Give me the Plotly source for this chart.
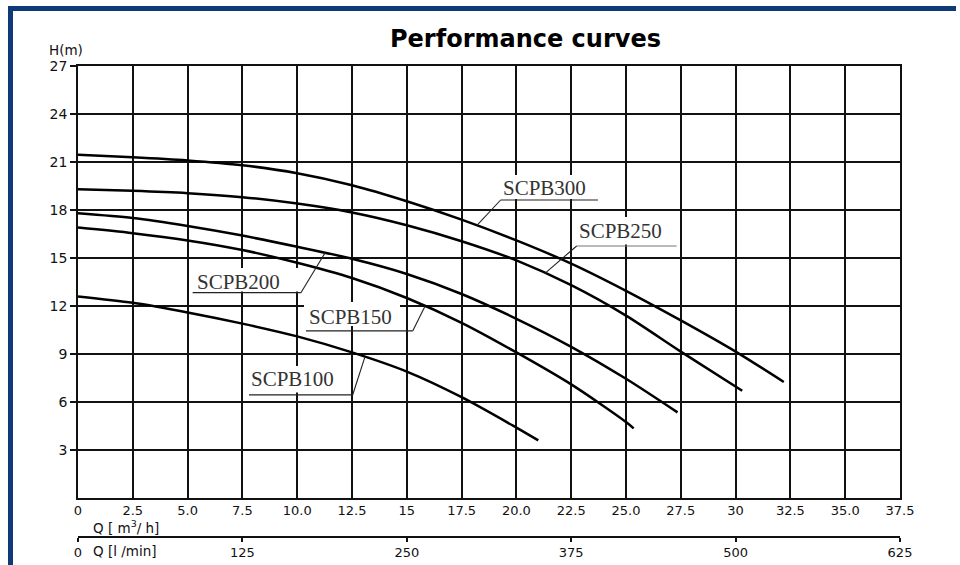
import numpy as np
import plotly.graph_objects as go

# ---------------- data ----------------
series_names = ["SCPB300", "SCPB250", "SCPB200", "SCPB150", "SCPB100"]

q_300 = [0, 2.5, 5, 7.5, 10, 12.5, 15, 17.5, 20, 22.5, 25, 27.5, 30, 32.2]
h_300 = [21.45, 21.3, 21.1, 20.8, 20.3, 19.55, 18.55, 17.4, 16.1, 14.65, 12.95, 11.1, 9.15, 7.25]

q_250 = [0, 2.5, 5, 7.5, 10, 12.5, 15, 17.5, 20, 22.5, 25, 27.5, 30.3]
h_250 = [19.3, 19.2, 19.05, 18.8, 18.4, 17.85, 17.05, 16.05, 14.85, 13.3, 11.4, 9.15, 6.7]

q_200 = [0, 2.5, 5, 7.5, 10, 12.5, 15, 17.5, 20, 22.5, 25, 27.35]
h_200 = [17.8, 17.5, 17.0, 16.4, 15.7, 14.95, 14.0, 12.75, 11.2, 9.45, 7.45, 5.35]

q_150 = [0, 2.5, 5, 7.5, 10, 12.5, 15, 17.5, 20, 22.5, 25, 25.35]
h_150 = [16.9, 16.55, 16.1, 15.5, 14.7, 13.75, 12.5, 10.95, 9.1, 7.1, 4.75, 4.35]

q_100 = [0, 2.5, 5, 7.5, 10, 12.5, 15, 17.5, 20, 21.0]
h_100 = [12.6, 12.2, 11.6, 10.9, 10.1, 9.1, 7.9, 6.3, 4.4, 3.6]

x_tickvals = [0, 2.5, 5, 7.5, 10, 12.5, 15, 17.5, 20, 22.5, 25, 27.5, 30, 32.5, 35, 37.5]
x_ticktext = ["0", "2.5", "5.0", "7.5", "10.0", "12.5", "15", "17.5", "20.0",
              "22.5", "25.0", "27.5", "30", "32.5", "35.0", "37.5"]
y_tickvals = [3, 6, 9, 12, 15, 18, 21, 24, 27]
lmin_tickvals = [0, 125, 250, 375, 500, 625]

curves = {
    "SCPB300": (q_300, h_300),
    "SCPB250": (q_250, h_250),
    "SCPB200": (q_200, h_200),
    "SCPB150": (q_150, h_150),
    "SCPB100": (q_100, h_100),
}

# ------------- label layout (positions in axis units) -------------
label_layout = {
    "SCPB300": dict(tx=19.3, ty=19.375, u0=19.28, u1=23.72, uh=18.625, side="left", lq=18.2,
                    box=(19.11, 23.36, 18.69, 20.19)),
    "SCPB250": dict(tx=22.75, ty=16.69, u0=22.75, u1=27.31, uh=15.75, side="left", lq=21.3,
                    box=(22.58, 26.82, 15.85, 17.56)),
    "SCPB200": dict(tx=5.34, ty=13.52, u0=5.23, u1=10.17, uh=12.83, side="right", lq=11.27,
                    box=(5.2, 10.13, 12.9, 14.375)),
    "SCPB150": dict(tx=10.43, ty=11.33, u0=10.4, u1=15.27, uh=10.44, side="right", lq=15.83,
                    box=(10.31, 14.69, 10.75, 12.25)),
    "SCPB100": dict(tx=7.8, ty=7.42, u0=7.8, u1=12.53, uh=6.44, side="right", lq=13.09,
                    box=(7.71, 11.86, 6.6, 8.25)),
}

# ------------- geometry -------------
W, H = 960, 565
ML, MR, MT, MB = 78, 60, 66, 28
PW = W - ML - MR
PH = H - MT - MB
y_axis_bottom_px = 498
ydom0 = (H - MB - y_axis_bottom_px) / PH


def px_x(px):
    return (px - ML) / PW


def px_y(py):
    return (H - MB - py) / PH


fig = go.Figure()

for name in series_names:
    q, h = curves[name]
    fig.add_trace(go.Scatter(x=q, y=h, mode="lines", name=name,
                             line=dict(color="#000000", width=2.5, shape="spline", smoothing=0.8),
                             showlegend=False, hoverinfo="skip"))

# invisible trace to activate the secondary (l/min) axis
fig.add_trace(go.Scatter(x=[lmin_tickvals[0], lmin_tickvals[-1]], y=[0, 0], xaxis="x2", yaxis="y",
                         mode="markers", marker=dict(opacity=0, size=1), showlegend=False,
                         hoverinfo="skip"))

shapes = []
annotations = []

# blue frame
navy = "#0f3a78"
shapes.append(dict(type="rect", xref="paper", yref="paper",
                   x0=px_x(8), x1=px_x(956), y0=px_y(11), y1=px_y(6),
                   fillcolor=navy, line=dict(width=0), layer="above"))
shapes.append(dict(type="rect", xref="paper", yref="paper",
                   x0=px_x(8), x1=px_x(13), y0=px_y(566), y1=px_y(6),
                   fillcolor=navy, line=dict(width=0), layer="above"))

for name in series_names:
    L = label_layout[name]
    q, h = curves[name]
    b = L["box"]
    shapes.append(dict(type="rect", xref="x", yref="y", x0=b[0], x1=b[1], y0=b[2], y1=b[3],
                       fillcolor="white", line=dict(width=0), layer="between"))
    ucol = "#777777" if name == "SCPB250" else "#222222"
    shapes.append(dict(type="line", xref="x", yref="y", x0=L["u0"], x1=L["u1"], y0=L["uh"], y1=L["uh"],
                       line=dict(color=ucol, width=1.2), layer="above"))
    start = L["u0"] if L["side"] == "left" else L["u1"]
    lh = float(np.interp(L["lq"], q, h))
    shapes.append(dict(type="line", xref="x", yref="y", x0=start, x1=L["lq"], y0=L["uh"], y1=lh,
                       line=dict(color="#222222", width=1.1), layer="above"))
    annotations.append(dict(x=L["tx"], y=L["ty"], xref="x", yref="y", text=name, showarrow=False,
                            xanchor="left", yanchor="middle",
                            font=dict(family="Liberation Serif, Times New Roman, serif", size=21, color="#333333")))

# title and axis captions
annotations.append(dict(x=px_x(525), y=px_y(39), xref="paper", yref="paper",
                        text="<b>Performance curves</b>", showarrow=False,
                        xanchor="center", yanchor="middle",
                        font=dict(family="DejaVu Sans, sans-serif", size=24, color="#000000")))
annotations.append(dict(x=px_x(66), y=px_y(50), xref="paper", yref="paper",
                        text="H(m)", showarrow=False, xanchor="center", yanchor="middle",
                        font=dict(family="DejaVu Sans, sans-serif", size=13.5, color="#111111")))
annotations.append(dict(x=px_x(91), y=px_y(527), xref="paper", yref="paper",
                        text="Q [ m<sup>3</sup>/ h]", showarrow=False, xanchor="left", yanchor="middle",
                        font=dict(family="DejaVu Sans, sans-serif", size=13.5, color="#111111")))
annotations.append(dict(x=px_x(91), y=px_y(551), xref="paper", yref="paper",
                        text="Q [l /min]", showarrow=False, xanchor="left", yanchor="middle",
                        font=dict(family="DejaVu Sans, sans-serif", size=13.5, color="#111111")))

tickfont = dict(family="DejaVu Sans, sans-serif", size=13, color="#111111")
gridc = "#111111"

fig.update_layout(
    template="none",
    width=W, height=H, autosize=False,
    margin=dict(l=ML, r=MR, t=MT, b=MB, pad=0, autoexpand=False),
    paper_bgcolor="white", plot_bgcolor="white",
    shapes=shapes, annotations=annotations,
    xaxis=dict(range=[0, 37.5], tickvals=x_tickvals, ticktext=x_ticktext, showgrid=True,
               gridcolor=gridc, gridwidth=1.5, showline=True, mirror=True, linecolor=gridc,
               linewidth=1.5, ticks="", zeroline=False, tickfont=tickfont, anchor="y",
               automargin=False, fixedrange=True),
    xaxis2=dict(range=[0, 625], tickvals=lmin_tickvals, ticktext=[str(v) for v in lmin_tickvals],
                overlaying="x", anchor="free", position=0, side="bottom", showgrid=False,
                showline=True, linecolor=gridc, linewidth=1.5, ticks="outside", ticklen=4,
                tickwidth=1.5, tickcolor=gridc, zeroline=False, tickfont=tickfont,
                automargin=False, fixedrange=True),
    yaxis=dict(range=[0, 27], domain=[ydom0, 1], tickvals=y_tickvals, showgrid=True,
               gridcolor=gridc, gridwidth=1.5, showline=True, mirror=True, linecolor=gridc,
               linewidth=1.5, ticks="outside", ticklen=6, tickwidth=1.5, tickcolor=gridc,
               zeroline=False, tickfont=dict(family="DejaVu Sans, sans-serif", size=14, color="#111111"),
               automargin=False, fixedrange=True),
)

fig.write_html("out.html", config={"displayModeBar": False},
               post_script="document.body.style.margin='0px';document.body.style.padding='0px';")
